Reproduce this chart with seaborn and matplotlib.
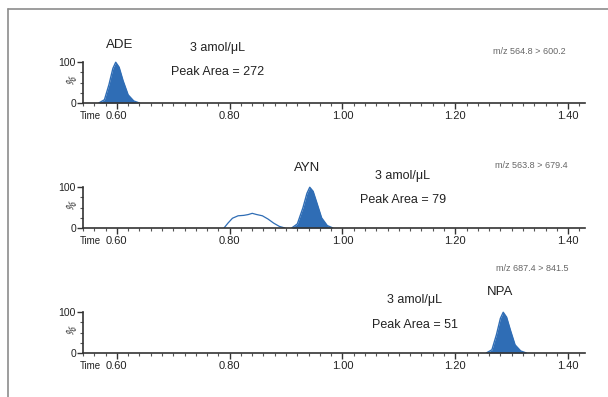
import numpy as np
import pandas as pd
import matplotlib
matplotlib.use('Agg')
import matplotlib.pyplot as plt
import matplotlib.transforms as mtransforms
from matplotlib.lines import Line2D
from matplotlib.ticker import MultipleLocator
import seaborn as sns

# peaks (time in min, relative intensity in %)
ade_time = [0.568, 0.578, 0.586, 0.593, 0.598, 0.604, 0.611, 0.620, 0.630, 0.640]
ade_int = [0, 8, 45, 85, 100, 88, 55, 20, 5, 0]

ayn_time = [0.910, 0.920, 0.930, 0.937, 0.942, 0.948, 0.955, 0.963, 0.973, 0.983]
ayn_int = [0, 10, 50, 85, 100, 90, 60, 25, 6, 0]
ayn_bump_time = [0.790, 0.797, 0.805, 0.815, 0.825, 0.833, 0.840, 0.848, 0.858, 0.868, 0.878, 0.888, 0.898]
ayn_bump_int = [0, 12, 24, 30, 31, 33, 36, 33, 30, 22, 12, 4, 0]

npa_time = [1.255, 1.265, 1.273, 1.280, 1.285, 1.291, 1.298, 1.306, 1.316, 1.326]
npa_int = [0, 8, 45, 85, 100, 88, 55, 20, 5, 0]

compounds = ['ADE', 'AYN', 'NPA']
areas = [272, 79, 51]
transitions = ['m/z 564.8 > 600.2', 'm/z 563.8 > 679.4', 'm/z 687.4 > 841.5']
xtick_vals = [0.60, 0.80, 1.00, 1.20, 1.40]

blue = '#2f6db5'
sns.set_style('white')
plt.rcParams['font.family'] = ['Liberation Sans', 'DejaVu Sans']

fig = plt.figure(figsize=(6.08, 3.97), dpi=100)

# frame around the figure (top and left only)
fig.add_artist(Line2D([8/608, 1], [1 - 9/397, 1 - 9/397], transform=fig.transFigure, color='#8c8c8c', lw=1.2))
fig.add_artist(Line2D([8/608, 8/608], [0, 1 - 9/397], transform=fig.transFigure, color='#8c8c8c', lw=1.2))

bottoms = [1 - 103/397, 1 - 228/397, 1 - 353/397]
left, width, height = 83/608, 502/608, 44/397

peaks = [(ade_time, ade_int), (ayn_time, ayn_int), (npa_time, npa_int)]

# label positions (data x, axes-fraction y)
name_pos = [(0.605, 1.32), (0.937, 1.36), (1.279, 1.39)]
conc_pos = [(0.779, 1.26), (1.107, 1.18), (1.128, 1.20)]
area_pos = [(0.779, 0.70), (1.107, 0.64), (1.128, 0.64)]
mz_pos = [(1.332, 1.16), (1.335, 1.43), (1.337, 1.93)]

for i in range(3):
    ax = fig.add_axes([left, bottoms[i], width, height])
    t, y = peaks[i]
    df = pd.DataFrame({'time': t, 'intensity': y})
    sns.lineplot(data=df, x='time', y='intensity', ax=ax, color=blue, lw=1.0, estimator=None)
    ax.fill_between(df['time'], 0, df['intensity'], color=blue, lw=0)
    if i == 1:
        bump = pd.DataFrame({'time': ayn_bump_time, 'intensity': ayn_bump_int})
        sns.lineplot(data=bump, x='time', y='intensity', ax=ax, color=blue, lw=0.9, estimator=None)

    ax.set_xlim(0.54, 1.43)
    ax.set_ylim(0, 108)
    ax.set_xlabel('')
    ax.set_ylabel('')

    for s in ['top', 'right']:
        ax.spines[s].set_visible(False)
    ax.spines['left'].set_bounds(0, 100)
    ax.spines['left'].set_color('#333333')
    ax.spines['bottom'].set_color('#333333')
    ax.spines['left'].set_linewidth(1.2)
    ax.spines['bottom'].set_linewidth(1.2)

    ax.set_yticks([0, 100])
    ax.set_yticklabels(['0', '100'], fontsize=7.5)
    ax.yaxis.set_minor_locator(MultipleLocator(25))
    ax.set_xticks(xtick_vals)
    ax.set_xticklabels([f'{v:.2f}' for v in xtick_vals], fontsize=8)
    ax.xaxis.set_minor_locator(MultipleLocator(0.02))
    ax.tick_params(axis='x', which='major', direction='out', length=4, width=1, pad=2, colors='#333333', labelcolor='#222222')
    ax.tick_params(axis='x', which='minor', direction='out', length=2.5, width=0.8, colors='#555555')
    ax.tick_params(axis='y', which='major', direction='out', length=4, width=1, pad=1, colors='#333333', labelcolor='#222222')
    ax.tick_params(axis='y', which='minor', direction='out', length=2, width=0.8, colors='#555555')
    ax.tick_params(left=True, bottom=True)
    ax.tick_params(which='minor', left=True, bottom=True)

    tr = mtransforms.blended_transform_factory(ax.transData, ax.transAxes)
    ax.text(-0.008, 0.5, '%', transform=ax.transAxes, ha='right', va='center', fontsize=7, rotation=60, color='#222222')
    ax.text(0.572, -0.30, 'Time', transform=tr, ha='right', va='center', fontsize=7, color='#222222')
    ax.text(name_pos[i][0], name_pos[i][1], compounds[i], transform=tr, ha='center', va='center', fontsize=9.5, color='#222222')
    ax.text(conc_pos[i][0], conc_pos[i][1], '3 amol/\u03bcL', transform=tr, ha='center', va='center', fontsize=9, color='#222222')
    ax.text(area_pos[i][0], area_pos[i][1], f'Peak Area = {areas[i]}', transform=tr, ha='center', va='center', fontsize=9, color='#222222')
    ax.text(mz_pos[i][0], mz_pos[i][1], transitions[i], transform=tr, ha='center', va='center', fontsize=6.5, color='#666666')

fig.savefig('out.png', dpi=100)
